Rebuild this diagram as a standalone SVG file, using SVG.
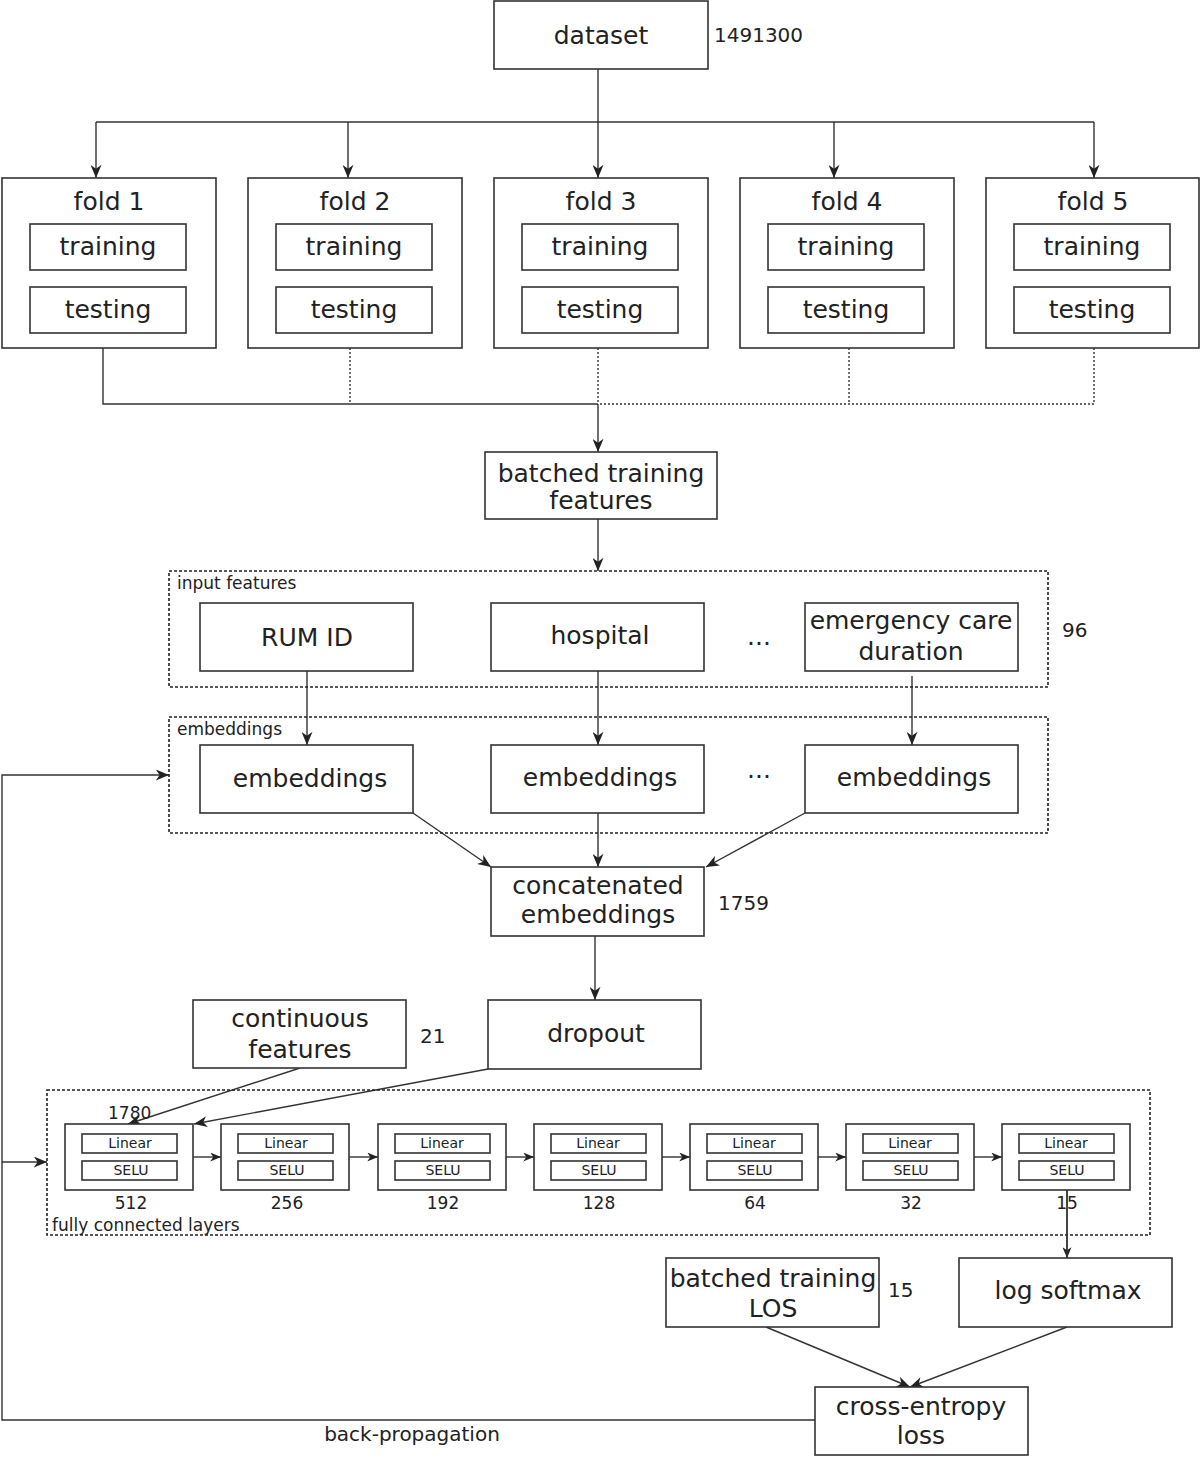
<svg xmlns="http://www.w3.org/2000/svg" width="1200" height="1457" viewBox="0 0 1200 1457">
<defs>
<marker id="ah" viewBox="0 0 12 10" markerWidth="14" markerHeight="11" refX="12" refY="5" orient="auto" markerUnits="userSpaceOnUse">
<path d="M0,0 L12,5 L0,10 L3.5,5 z" fill="#222"/>
</marker>
<marker id="as" viewBox="0 0 12 10" markerWidth="11" markerHeight="9" refX="12" refY="5" orient="auto" markerUnits="userSpaceOnUse">
<path d="M0,0 L12,5 L0,10 L3.5,5 z" fill="#222"/>
</marker>
<style>
rect{fill:#fff;stroke:#333;stroke-width:1.6}
.grp{fill:none;stroke:#222;stroke-width:1.6;stroke-dasharray:3 2}
.t{font-family:"DejaVu Sans",Verdana,sans-serif;font-size:25px;fill:#222;text-anchor:middle}
.n{font-family:"DejaVu Sans",Verdana,sans-serif;font-size:20px;fill:#222}
.s{font-family:"DejaVu Sans",Verdana,sans-serif;font-size:17px;fill:#222}
.m{font-family:"DejaVu Sans",Verdana,sans-serif;font-size:14px;fill:#222;text-anchor:middle}
.c{fill:none;stroke:#333;stroke-width:1.4}
.d{fill:none;stroke:#333;stroke-width:1.4;stroke-dasharray:2 2}
</style>
</defs>

<g id="connectors">
<path class="c" d="M598,69 V122"/>
<path class="c" d="M96,122 H1094"/>
<path class="c" d="M96,122 V178" marker-end="url(#ah)"/>
<path class="c" d="M348,122 V178" marker-end="url(#ah)"/>
<path class="c" d="M598,122 V178" marker-end="url(#ah)"/>
<path class="c" d="M834,122 V178" marker-end="url(#ah)"/>
<path class="c" d="M1094,122 V178" marker-end="url(#ah)"/>
<path class="c" d="M103,348 V404 H598"/>
<path class="d" d="M350,348 V404"/>
<path class="d" d="M598,348 V404"/>
<path class="d" d="M849,348 V404"/>
<path class="d" d="M1094,348 V404 H598"/>
<path class="c" d="M598,404 V452" marker-end="url(#ah)"/>
<path class="c" d="M598,519 V571" marker-end="url(#ah)"/>
<path class="c" d="M307,671 V745" marker-end="url(#ah)"/>
<path class="c" d="M598,671 V745" marker-end="url(#ah)"/>
<path class="c" d="M912,676 V745" marker-end="url(#ah)"/>
<path class="c" d="M413,813 L491,867" marker-end="url(#ah)"/>
<path class="c" d="M598,813 V867" marker-end="url(#ah)"/>
<path class="c" d="M805,813 L706,867" marker-end="url(#ah)"/>
<path class="c" d="M595,936 V1000" marker-end="url(#ah)"/>
<path class="c" d="M300,1068 L128,1124" marker-end="url(#ah)"/>
<path class="c" d="M488,1069 L194,1124" marker-end="url(#ah)"/>
<path class="c" d="M193,1157 H221" marker-end="url(#as)"/>
<path class="c" d="M349,1157 H378" marker-end="url(#as)"/>
<path class="c" d="M506,1157 H534" marker-end="url(#as)"/>
<path class="c" d="M662,1157 H690" marker-end="url(#as)"/>
<path class="c" d="M818,1157 H846" marker-end="url(#as)"/>
<path class="c" d="M974,1157 H1002" marker-end="url(#as)"/>
<path class="c" d="M1067,1190 V1258" marker-end="url(#as)"/>
<path class="c" d="M766,1327 L910,1387" marker-end="url(#ah)"/>
<path class="c" d="M1067,1327 L910,1387" marker-end="url(#ah)"/>
<path class="c" d="M815,1420 H2 V775 H169" marker-end="url(#ah)"/>
<path class="c" d="M2,1162 H47" marker-end="url(#ah)"/>
</g>

<g id="dataset"><rect x="494" y="1" width="214" height="68"/><text class="t" x="601" y="44">dataset</text></g>
<text class="n" x="714" y="42">1491300</text>

<g id="fold1"><rect x="2" y="178" width="214" height="170"/><text class="t" x="109" y="210">fold 1</text>
<rect x="30" y="224" width="156" height="46"/><text class="t" x="108" y="255">training</text>
<rect x="30" y="287" width="156" height="46"/><text class="t" x="108" y="318">testing</text></g>
<g id="fold2"><rect x="248" y="178" width="214" height="170"/><text class="t" x="355" y="210">fold 2</text>
<rect x="276" y="224" width="156" height="46"/><text class="t" x="354" y="255">training</text>
<rect x="276" y="287" width="156" height="46"/><text class="t" x="354" y="318">testing</text></g>
<g id="fold3"><rect x="494" y="178" width="214" height="170"/><text class="t" x="601" y="210">fold 3</text>
<rect x="522" y="224" width="156" height="46"/><text class="t" x="600" y="255">training</text>
<rect x="522" y="287" width="156" height="46"/><text class="t" x="600" y="318">testing</text></g>
<g id="fold4"><rect x="740" y="178" width="214" height="170"/><text class="t" x="847" y="210">fold 4</text>
<rect x="768" y="224" width="156" height="46"/><text class="t" x="846" y="255">training</text>
<rect x="768" y="287" width="156" height="46"/><text class="t" x="846" y="318">testing</text></g>
<g id="fold5"><rect x="986" y="178" width="213" height="170"/><text class="t" x="1093" y="210">fold 5</text>
<rect x="1014" y="224" width="156" height="46"/><text class="t" x="1092" y="255">training</text>
<rect x="1014" y="287" width="156" height="46"/><text class="t" x="1092" y="318">testing</text></g>

<g id="batched-features"><rect x="485" y="452" width="232" height="67"/><text class="t" x="601" y="482">batched training</text><text class="t" x="601" y="509">features</text></g>

<g id="input-features"><rect class="grp" x="169" y="571" width="879" height="116"/><text class="s" x="177" y="589">input features</text>
<rect x="200" y="603" width="213" height="68"/><text class="t" x="307" y="646">RUM ID</text>
<rect x="491" y="603" width="213" height="68"/><text class="t" x="600" y="644">hospital</text>
<text class="t" x="759" y="645">...</text>
<rect x="805" y="603" width="213" height="68"/><text class="t" x="911" y="629">emergency care</text><text class="t" x="911" y="660">duration</text></g>
<text class="n" x="1062" y="637">96</text>

<g id="embeddings"><rect class="grp" x="169" y="717" width="879" height="116"/><text class="s" x="177" y="735">embeddings</text>
<rect x="200" y="745" width="213" height="68"/><text class="t" x="310" y="787">embeddings</text>
<rect x="491" y="745" width="213" height="68"/><text class="t" x="600" y="786">embeddings</text>
<text class="t" x="759" y="778">...</text>
<rect x="805" y="745" width="213" height="68"/><text class="t" x="914" y="786">embeddings</text></g>

<g id="concatenated"><rect x="491" y="867" width="213" height="69"/><text class="t" x="598" y="894">concatenated</text><text class="t" x="598" y="923">embeddings</text></g>
<text class="n" x="718" y="910">1759</text>

<g id="dropout"><rect x="488" y="1000" width="213" height="69"/><text class="t" x="596" y="1042">dropout</text></g>
<g id="continuous"><rect x="193" y="1000" width="213" height="68"/><text class="t" x="300" y="1027">continuous</text><text class="t" x="300" y="1058">features</text></g>
<text class="n" x="420" y="1043">21</text>

<g id="fully-connected"><rect class="grp" x="47" y="1090" width="1103" height="145"/><text class="s" x="52" y="1231">fully connected layers</text>
<text class="s" x="108" y="1119">1780</text>
<g id="fc512"><rect x="65" y="1124" width="128" height="66"/><rect x="82" y="1134" width="95" height="19"/><text class="m" x="130" y="1148">Linear</text><rect x="82" y="1161" width="95" height="19"/><text class="m" x="131" y="1175">SELU</text><text class="s" x="131" y="1209" text-anchor="middle">512</text></g>
<g id="fc256"><rect x="221" y="1124" width="128" height="66"/><rect x="238" y="1134" width="95" height="19"/><text class="m" x="286" y="1148">Linear</text><rect x="238" y="1161" width="95" height="19"/><text class="m" x="287" y="1175">SELU</text><text class="s" x="287" y="1209" text-anchor="middle">256</text></g>
<g id="fc192"><rect x="378" y="1124" width="128" height="66"/><rect x="395" y="1134" width="95" height="19"/><text class="m" x="442" y="1148">Linear</text><rect x="395" y="1161" width="95" height="19"/><text class="m" x="443" y="1175">SELU</text><text class="s" x="443" y="1209" text-anchor="middle">192</text></g>
<g id="fc128"><rect x="534" y="1124" width="128" height="66"/><rect x="551" y="1134" width="95" height="19"/><text class="m" x="598" y="1148">Linear</text><rect x="551" y="1161" width="95" height="19"/><text class="m" x="599" y="1175">SELU</text><text class="s" x="599" y="1209" text-anchor="middle">128</text></g>
<g id="fc64"><rect x="690" y="1124" width="128" height="66"/><rect x="707" y="1134" width="95" height="19"/><text class="m" x="754" y="1148">Linear</text><rect x="707" y="1161" width="95" height="19"/><text class="m" x="755" y="1175">SELU</text><text class="s" x="755" y="1209" text-anchor="middle">64</text></g>
<g id="fc32"><rect x="846" y="1124" width="128" height="66"/><rect x="863" y="1134" width="95" height="19"/><text class="m" x="910" y="1148">Linear</text><rect x="863" y="1161" width="95" height="19"/><text class="m" x="911" y="1175">SELU</text><text class="s" x="911" y="1209" text-anchor="middle">32</text></g>
<g id="fc15"><rect x="1002" y="1124" width="128" height="66"/><rect x="1019" y="1134" width="95" height="19"/><text class="m" x="1066" y="1148">Linear</text><rect x="1019" y="1161" width="95" height="19"/><text class="m" x="1067" y="1175">SELU</text><text class="s" x="1067" y="1209" text-anchor="middle">15</text></g>
</g>
<path class="c" d="M1067,1190 V1258"/>

<g id="batched-los"><rect x="666" y="1258" width="213" height="69"/><text class="t" x="773" y="1287">batched training</text><text class="t" x="773" y="1317">LOS</text></g>
<text class="n" x="888" y="1297">15</text>
<g id="log-softmax"><rect x="959" y="1258" width="213" height="69"/><text class="t" x="1068" y="1299">log softmax</text></g>
<g id="cross-entropy"><rect x="815" y="1387" width="213" height="68"/><text class="t" x="921" y="1415">cross-entropy</text><text class="t" x="921" y="1444">loss</text></g>
<text class="n" x="412" y="1441" text-anchor="middle">back-propagation</text>
</svg>
